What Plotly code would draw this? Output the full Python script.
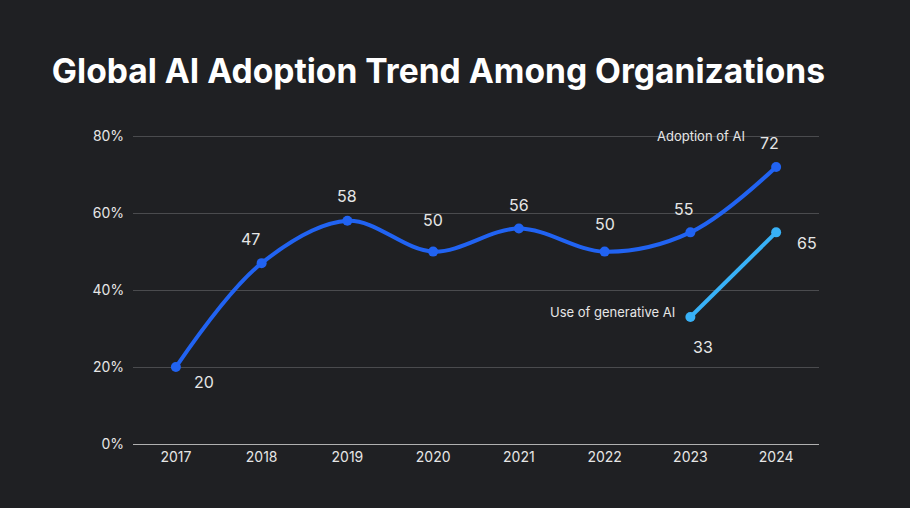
import plotly.graph_objects as go

# data
years = ["2017", "2018", "2019", "2020", "2021", "2022", "2023", "2024"]
adoption = [20, 47, 58, 50, 56, 50, 55, 72]

gen_years = ["2023", "2024"]
gen_values = [33, 55]
gen_labels = ["33", "65"]

# label offsets in px (dx, dy), dy positive = up
adoption_shift = [(28, -15), (-11, 24), (0, 25), (0, 32),
                  (0, 24), (0, 28), (-7, 23), (-7, 24)]
gen_shift = [(13, -30), (31, -11)]

bg = "#1f2023"
blue = "#2163f2"
cyan = "#38b1f7"
txt = "#e6e6e6"
font = "Inter"

fig = go.Figure()

fig.add_trace(go.Scatter(
    x=years, y=adoption, mode="lines+markers",
    line=dict(color=blue, width=4, shape="spline", smoothing=1.0),
    marker=dict(color=blue, size=10),
    name="Adoption of AI", showlegend=False, cliponaxis=False,
))

fig.add_trace(go.Scatter(
    x=gen_years, y=gen_values, mode="lines+markers",
    line=dict(color=cyan, width=4),
    marker=dict(color=cyan, size=10),
    name="Use of generative AI", showlegend=False, cliponaxis=False,
))

# value labels (annotations on a category axis take the category index)
for x, y, (dx, dy) in zip(years, adoption, adoption_shift):
    fig.add_annotation(x=years.index(x), y=y, text=str(y), showarrow=False,
                       xshift=dx, yshift=dy,
                       font=dict(color=txt, size=16, family=font))
for x, y, lab, (dx, dy) in zip(gen_years, gen_values, gen_labels, gen_shift):
    fig.add_annotation(x=years.index(x), y=y, text=lab, showarrow=False,
                       xshift=dx, yshift=dy,
                       font=dict(color=txt, size=16, family=font))

# series names next to the lines
fig.add_annotation(x=years.index("2024"), y=adoption[-1], text="Adoption of AI",
                   showarrow=False, xanchor="right", xshift=-29, yshift=31,
                   font=dict(color=txt, size=13, family=font))
fig.add_annotation(x=years.index("2023"), y=gen_values[0], text="Use of generative AI",
                   showarrow=False, xanchor="right", xshift=-13, yshift=5,
                   font=dict(color=txt, size=13, family=font))

fig.update_layout(
    width=910, height=508,
    paper_bgcolor=bg, plot_bgcolor=bg,
    margin=dict(l=133, r=91, t=135, b=64),
    title=dict(text="<b>Global AI Adoption Trend Among Organizations</b>",
               x=0.057, xanchor="left", y=0.86, yanchor="middle",
               font=dict(color="white", size=33.6, family=font)),
    font=dict(family=font, color=txt),
    xaxis=dict(type="category", range=[-0.5, 7.5], showgrid=False,
               showline=True, linecolor="#b0b0b0", linewidth=1,
               ticks="", tickfont=dict(size=14, color=txt),
               zeroline=False),
    yaxis=dict(range=[0, 80.3], tick0=0, dtick=20, ticksuffix="%  ",
               gridcolor="#4a4b4e", gridwidth=1, zeroline=False,
               showline=False, ticks="",
               tickfont=dict(size=14, color=txt)),
)

fig.write_html("out.html", config={"displayModeBar": False},
               post_script="document.body.style.margin='0';")
